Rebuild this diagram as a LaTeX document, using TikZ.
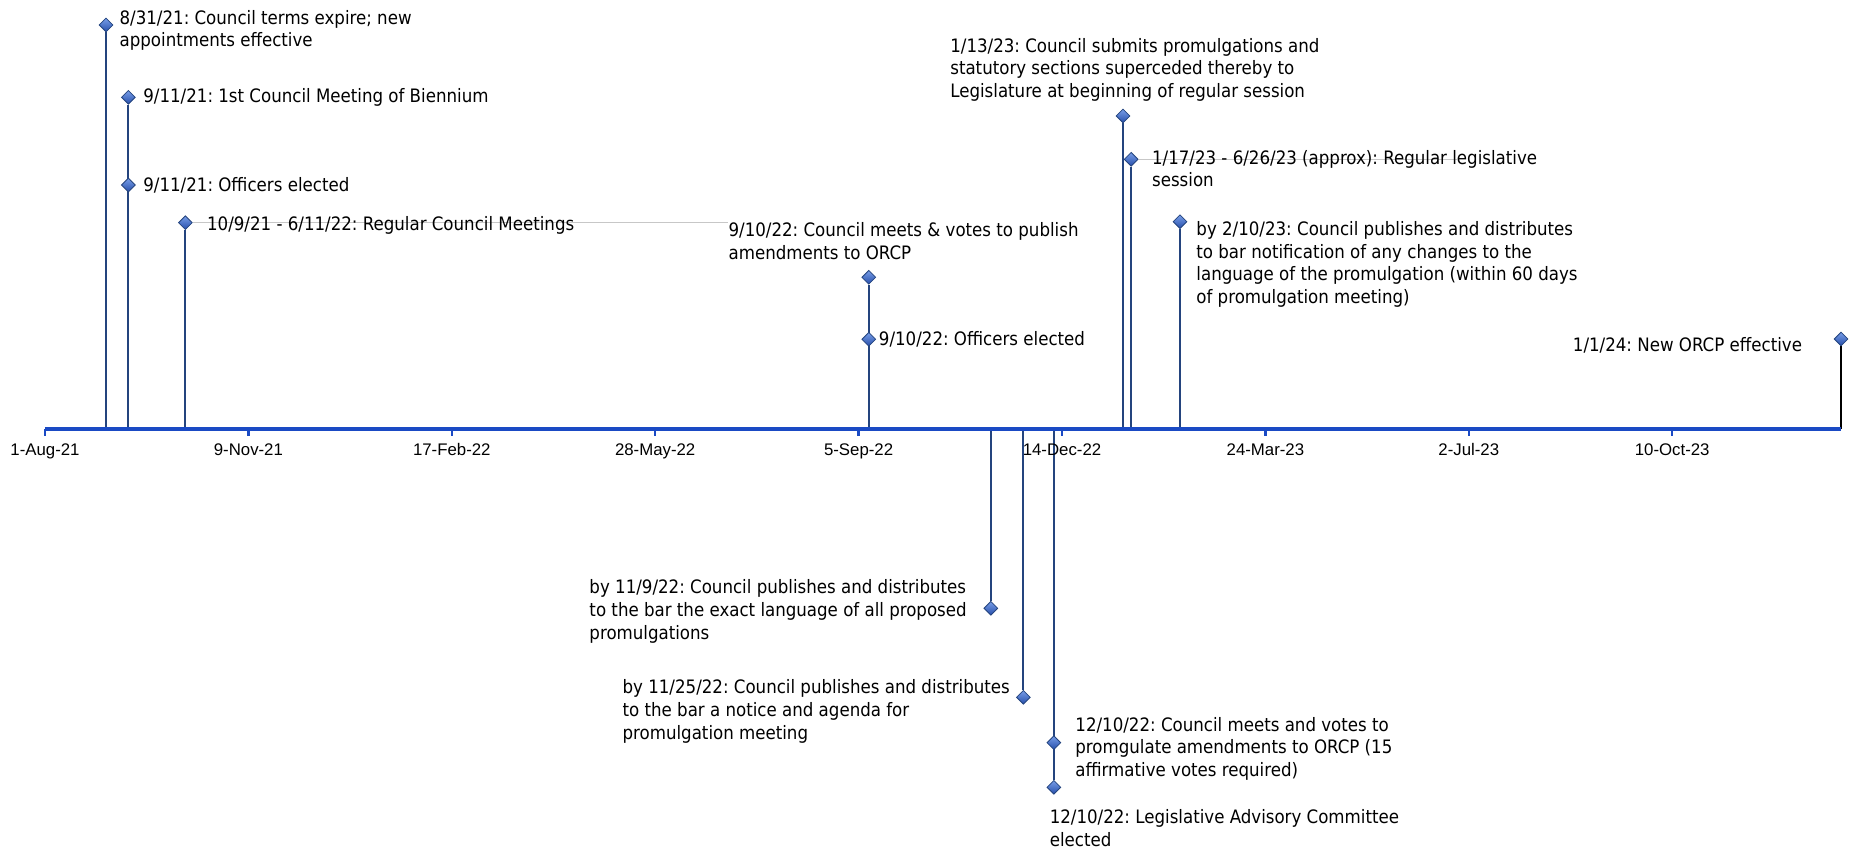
\documentclass[tikz,border=0pt]{standalone}
\usepackage{fontspec}
\setmainfont{DejaVu Sans Condensed}
\newfontfamily\ticksfont{Liberation Sans}
\usetikzlibrary{positioning,shapes.geometric,backgrounds}
\definecolor{stemblue}{RGB}{36,68,126}
\definecolor{axisblue}{RGB}{26,74,196}
\definecolor{marktop}{RGB}{120,158,232}
\definecolor{markbot}{RGB}{38,78,170}
\frenchspacing
\tikzset{
	timeline/.style={x=1.017pt,y=0.5pt,font=\fontsize{9.25}{11.3}\selectfont},
	event/.style={diamond,draw=stemblue,line width=0.4pt,inner sep=0pt,
		minimum width=7pt,minimum height=7pt,
		top color=marktop,bottom color=markbot},
	stem/.style={draw=stemblue,line width=1pt},
	span/.style={draw=black!22,line width=0.5pt},
	axisline/.style={draw=axisblue,line width=2pt},
	axistick/.style={draw=axisblue,line width=1.2pt},
	note/.style={inner sep=0pt,align=left},
	datelab/.style={font=\ticksfont\fontsize{8.4}{10}\selectfont,inner sep=0pt,anchor=base}
}

\begin{document}
\begin{tikzpicture}[timeline]
	\useasboundingbox (-22.12,-420.3) rectangle (890.86,428.7);
	
	\coordinate (ax) at (0,0);
	\coordinate (axend) at (883,0);
	
	% events above the axis
	\node[event] (term21) at (30,403.7) {};
	\node[event] (meet21) at (41,331.4) {};
	\node[event] (off21) at (41,243.7) {};
	\node[event] (reg21) at (69,206) {};
	\node[event] (pub22) at (405,151.4) {};
	\node[event] (off22) at (405,89.4) {};
	\node[event] (submit23) at (530,312.7) {};
	\node[event] (sess23) at (534,269.4) {};
	\node[event] (notify23) at (558,207) {};
	\node[event] (orcp24) at (883,89.7) {};
	% events below the axis
	\node[event] (bar1109) at (465,-179.6) {};
	\node[event] (bar1125) at (481,-268.6) {};
	\node[event] (vote22) at (496,-314) {};
	\node[event] (lac22) at (496,-358.6) {};
	
	\node[note,anchor=north west] (term21txt) at (36.5,419) {8/31/21: Council terms expire; new\\appointments effective};
	\node[note,right=3.6pt of meet21] (meet21txt) {9/11/21: 1st Council Meeting of Biennium};
	\node[note,right=3.6pt of off21] (off21txt) {9/11/21: Officers elected};
	\node[note,right=7pt of reg21,yshift=-1.5pt] (reg21txt) {10/9/21 - 6/11/22: Regular Council Meetings};
	\node[note,anchor=north west] (pub22txt) at (335.9,206.7) {9/10/22: Council meets \& votes to publish\\amendments to ORCP};
	\node[note,right=1.2pt of off22] (off22txt) {9/10/22: Officers elected};
	\node[note,anchor=north west] (submit23txt) at (444.9,391) {1/13/23: Council submits promulgations and\\statutory sections superceded thereby to\\Legislature at beginning of regular session};
	\node[note,anchor=north west] (sess23txt) at (544.1,279) {1/17/23 - 6/26/23 (approx): Regular legislative\\session};
	\node[note,anchor=north west] (notify23txt) at (565.9,207.7) {by 2/10/23: Council publishes and distributes\\to bar notification of any changes to the\\language of the promulgation (within 60 days\\of promulgation meeting)};
	\node[note,left=15.6pt of orcp24,yshift=-3pt] (orcp24txt) {1/1/24: New ORCP effective};
	\node[note,anchor=north west] (bar1109txt) at (267.5,-150.7) {by 11/9/22: Council publishes and distributes\\to the bar the exact language of all proposed\\promulgations};
	\node[note,anchor=north west] (bar1125txt) at (283.8,-250.7) {by 11/25/22: Council publishes and distributes\\to the bar a notice and agenda for\\promulgation meeting};
	\node[note,anchor=north west] (vote22txt) at (506.4,-288) {12/10/22: Council meets and votes to\\promgulate amendments to ORCP (15\\affirmative votes required)};
	\node[note,anchor=north west] (lac22txt) at (493.8,-380.7) {12/10/22: Legislative Advisory Committee\\elected};
	
	\begin{scope}[on background layer]
		\coordinate (sess23end) at (694,269.4);
		\draw[span] (reg21) -- (reg21 -| pub22txt.west);
		\draw[span] (sess23) -- (sess23end);
		\draw[stem] (term21) -- (term21 |- ax);
		\draw[stem] (meet21) -- (meet21 |- ax);
		\draw[stem] (off21) -- (off21 |- ax);
		\draw[stem] (reg21) -- (reg21 |- ax);
		\draw[stem] (pub22) -- (pub22 |- ax);
		\draw[stem] (off22) -- (off22 |- ax);
		\draw[stem] (submit23) -- (submit23 |- ax);
		\draw[stem] (sess23) -- (sess23 |- ax);
		\draw[stem] (notify23) -- (notify23 |- ax);
		\draw[stem,draw=black,line width=1.2pt] (orcp24) -- (orcp24 |- ax);
		\draw[stem] (bar1109) -- (bar1109 |- ax);
		\draw[stem] (bar1125) -- (bar1125 |- ax);
		\draw[stem] (vote22) -- (vote22 |- ax);
		\draw[stem] (lac22) -- (lac22 |- ax);
	\end{scope}
	
	\draw[axisline] (ax) -- (axend);
	\foreach \d in {0,100,...,800}
		\draw[axistick] (\d,0) -- (\d,-7);
	
	\node[datelab] (aug21) at (0,-26.5) {1-Aug-21};
	\node[datelab] (nov21) at (100,-26.5) {9-Nov-21};
	\node[datelab] (feb22) at (200,-26.5) {17-Feb-22};
	\node[datelab] (may22) at (300,-26.5) {28-May-22};
	\node[datelab] (sep22) at (400,-26.5) {5-Sep-22};
	\node[datelab] (dec22) at (500,-26.5) {14-Dec-22};
	\node[datelab] (mar23) at (600,-26.5) {24-Mar-23};
	\node[datelab] (jul23) at (700,-26.5) {2-Jul-23};
	\node[datelab] (oct23) at (800,-26.5) {10-Oct-23};
\end{tikzpicture}
\end{document}
